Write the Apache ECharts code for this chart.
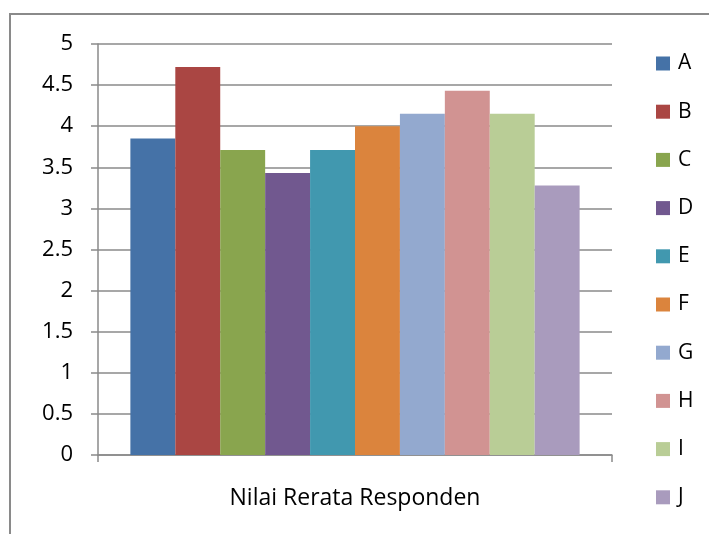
<!DOCTYPE html>
<html>
<head>
<meta charset="utf-8">
<script src="https://cdn.jsdelivr.net/npm/echarts@6/dist/echarts.min.js"></script>
<style>
html,body{margin:0;padding:0;background:#fff;}
#c{width:709px;height:534px;}
</style>
</head>
<body>
<div id="c"></div>
<script>
const categories = ['Nilai Rerata Responden'];
const seriesNames = ['A','B','C','D','E','F','G','H','I','J'];
const values = [3.85, 4.72, 3.71, 3.43, 3.71, 4.00, 4.15, 4.43, 4.15, 3.28];
const colors = ['#4572A7','#AA4643','#89A54E','#71588F','#4198AF','#DB843D','#93A9CF','#D19392','#B9CD96','#A99BBD'];
const yTicks = [0, 0.5, 1, 1.5, 2, 2.5, 3, 3.5, 4, 4.5, 5];

const FONT = 'Open Sans';
const chart = echarts.init(document.getElementById('c'), null, {renderer:'canvas'});
const series = seriesNames.map((n, i) => ({
  name: n,
  type: 'bar',
  data: [values[i]],
  itemStyle: {color: colors[i]},
  barGap: '0%',
  barCategoryGap: '12.6%'
}));
chart.setOption({
  animation: false,
  color: colors,
  textStyle: {fontFamily: FONT, color: '#000'},
  graphic: [{
    type: 'rect',
    shape: {x: 10, y: 14, width: 900, height: 800},
    style: {fill: 'none', stroke: '#8a8a8a', lineWidth: 2},
    silent: true
  }],
  grid: {left: 98, right: 97, top: 44, bottom: 79, containLabel: false},
  legend: {
    orient: 'vertical',
    left: 656,
    top: 53,
    padding: 0,
    itemWidth: 14,
    itemHeight: 14,
    itemGap: 27.2,
    icon: 'rect',
    data: seriesNames,
    textStyle: {fontFamily: FONT, fontSize: 21, color: '#000', padding: [0,0,0,3]}
  },
  xAxis: {
    type: 'category',
    data: categories,
    boundaryGap: true,
    axisLine: {show: true, lineStyle: {color: '#8a8a8a', width: 1.5}},
    axisTick: {show: true, length: 7, lineStyle: {color: '#8a8a8a', width: 1.5}},
    axisLabel: {fontFamily: FONT, fontSize: 23, color: '#000', margin: 32}
  },
  yAxis: {
    type: 'value',
    min: 0, max: 5, interval: 0.5,
    axisLine: {show: true, lineStyle: {color: '#8a8a8a', width: 1.5}},
    axisTick: {show: true, length: 7, lineStyle: {color: '#8a8a8a', width: 1.5}},
    splitLine: {show: true, lineStyle: {color: '#8a8a8a', width: 1.5}},
    axisLabel: {fontFamily: FONT, fontSize: 22, color: '#000', margin: 25,
      formatter: v => String(yTicks.find(t => Math.abs(t - v) < 1e-9) ?? v)}
  },
  series: series
});
</script>
</body>
</html>
